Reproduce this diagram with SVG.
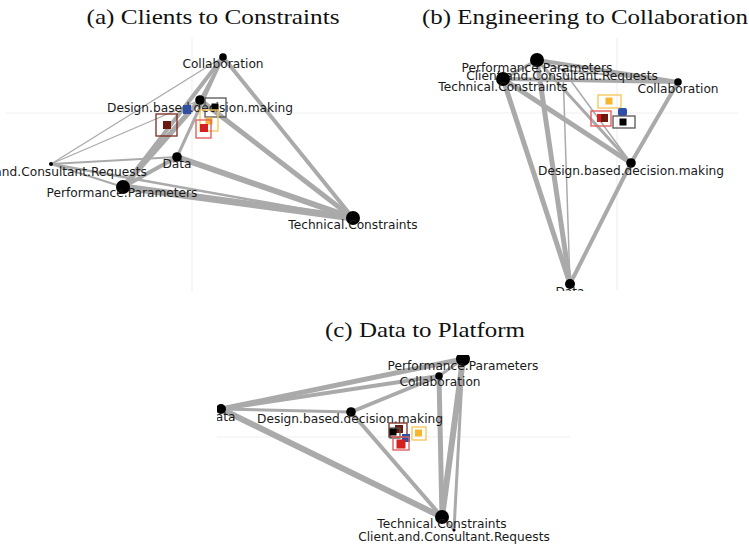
<svg xmlns="http://www.w3.org/2000/svg" width="749" height="548" viewBox="0 0 749 548">
<style>
.title{font-family:"Liberation Serif","DejaVu Serif",serif;font-size:21px;fill:#111;text-anchor:middle}
.lbl{font-family:"DejaVu Sans",sans-serif;font-size:12.2px;fill:#1a1a1a;text-anchor:middle}
.axis{stroke:#f0f0f0;stroke-width:1.2}
.e{stroke:#aaaaaa;stroke-linecap:round;fill:none}
.n{fill:#000}
.brown{fill:#6b1a0e}.brownO{fill:none;stroke:#7a2a1e;stroke-width:1.3}
.red{fill:#d42020}.redO{fill:none;stroke:#e46060;stroke-width:1.4}
.yel{fill:#f5b52e}.yelO{fill:none;stroke:#f7c860;stroke-width:1.4}
.blk{fill:#000}.blkO{fill:none;stroke:#555;stroke-width:1.3}
.blue{fill:#2d4fa8}
</style>
<defs>
<clipPath id="clipB"><rect x="420" y="30" width="329" height="261"/></clipPath>
<clipPath id="clipC"><rect x="217" y="355" width="532" height="193"/></clipPath>
</defs>
<rect width="749" height="548" fill="#fff"/>

<!-- Panel (a) -->
<g id="panel-a">
<text class="title" x="213" y="24" textLength="253" lengthAdjust="spacingAndGlyphs">(a) Clients to Constraints</text>
<line class="axis" x1="192" y1="38" x2="192" y2="292"/>
<line class="axis" x1="6" y1="113" x2="420" y2="113"/>
<g id="edges-a">
<line class="e" x1="223" y1="57" x2="51" y2="164" stroke-width="1.3"/>
<line class="e" x1="200" y1="100" x2="51" y2="164" stroke-width="1.3"/>
<line class="e" x1="177" y1="157" x2="51" y2="164" stroke-width="2"/>
<line class="e" x1="51" y1="164" x2="123" y2="187" stroke-width="2"/>
<line class="e" x1="51" y1="164" x2="353" y2="218" stroke-width="2.5"/>
<line class="e" x1="223" y1="57" x2="123" y2="187" stroke-width="4"/>
<line class="e" x1="223" y1="57" x2="177" y2="157" stroke-width="3"/>
<line class="e" x1="223" y1="57" x2="353" y2="218" stroke-width="4"/>
<line class="e" x1="223" y1="57" x2="200" y2="100" stroke-width="2.5"/>
<line class="e" x1="200" y1="100" x2="123" y2="187" stroke-width="5"/>
<line class="e" x1="200" y1="100" x2="353" y2="218" stroke-width="5"/>
<line class="e" x1="177" y1="157" x2="123" y2="187" stroke-width="4"/>
<line class="e" x1="177" y1="157" x2="353" y2="218" stroke-width="6"/>
<line class="e" x1="123" y1="187" x2="353" y2="218" stroke-width="7"/>
</g>
<g id="a-collaboration"><circle class="n" cx="223" cy="57" r="3.8"/><text class="lbl" x="223" y="68">Collaboration</text></g>
<g id="a-design"><circle class="n" cx="200" cy="100" r="4.8"/><text class="lbl" x="200" y="112">Design.based.decision.making</text></g>
<g id="a-data"><circle class="n" cx="177" cy="157" r="4.8"/><text class="lbl" x="177" y="168">Data</text></g>
<g id="a-client"><circle class="n" cx="51" cy="164" r="2"/><text class="lbl" x="51" y="176">Client.and.Consultant.Requests</text></g>
<g id="a-performance"><circle class="n" cx="123" cy="187" r="7"/><text class="lbl" x="122" y="197">Performance.Parameters</text></g>
<g id="a-technical"><circle class="n" cx="353" cy="218" r="7"/><text class="lbl" x="353" y="229">Technical.Constraints</text></g>
<g id="a-markers">
<rect class="blue" x="183" y="105" width="8" height="9"/>
<rect class="blkO" x="205" y="98" width="21" height="19"/>
<rect class="blk" x="211.5" y="103.5" width="7" height="7"/>
<rect class="yelO" x="200" y="110" width="18" height="21"/>
<rect class="yel" x="205.5" y="117.5" width="7" height="7"/>
<rect class="redO" x="196" y="120" width="15" height="18"/>
<rect class="red" x="200" y="124" width="8" height="8"/>
<rect class="brownO" x="156" y="114" width="21" height="22"/>
<rect class="brown" x="163" y="121" width="8" height="8"/>
</g>
</g>

<!-- Panel (b) -->
<g id="panel-b">
<text class="title" x="585" y="24" textLength="326" lengthAdjust="spacingAndGlyphs">(b) Engineering to Collaboration</text>
<line class="axis" x1="617" y1="38" x2="617" y2="290"/>
<line class="axis" x1="420" y1="113" x2="738" y2="113"/>
<g clip-path="url(#clipB)">
<g id="edges-b">
<line class="e" x1="537" y1="60" x2="678" y2="82" stroke-width="4"/>
<line class="e" x1="503" y1="79" x2="678" y2="82" stroke-width="4"/>
<line class="e" x1="563" y1="70" x2="678" y2="82" stroke-width="2"/>
<line class="e" x1="537" y1="60" x2="503" y2="79" stroke-width="3"/>
<line class="e" x1="537" y1="60" x2="563" y2="70" stroke-width="2"/>
<line class="e" x1="503" y1="79" x2="570" y2="284" stroke-width="5"/>
<line class="e" x1="537" y1="60" x2="570" y2="284" stroke-width="5"/>
<line class="e" x1="563" y1="70" x2="570" y2="284" stroke-width="1.5"/>
<line class="e" x1="503" y1="79" x2="631" y2="163" stroke-width="5"/>
<line class="e" x1="537" y1="60" x2="631" y2="163" stroke-width="3"/>
<line class="e" x1="563" y1="70" x2="631" y2="163" stroke-width="1.5"/>
<line class="e" x1="678" y1="82" x2="631" y2="163" stroke-width="4"/>
<line class="e" x1="631" y1="163" x2="570" y2="284" stroke-width="4"/>
</g>
<g id="b-performance"><circle class="n" cx="537" cy="60" r="7"/><text class="lbl" x="537" y="72">Performance.Parameters</text></g>
<g id="b-client"><circle class="n" cx="563" cy="70" r="1.5"/><text class="lbl" x="562" y="80">Client.and.Consultant.Requests</text></g>
<g id="b-technical"><circle class="n" cx="503" cy="79" r="7"/><text class="lbl" x="503" y="91">Technical.Constraints</text></g>
<g id="b-collaboration"><circle class="n" cx="678" cy="82" r="3.8"/><text class="lbl" x="678" y="93">Collaboration</text></g>
<g id="b-design"><circle class="n" cx="631" cy="163" r="4.8"/><text class="lbl" x="631" y="175">Design.based.decision.making</text></g>
<g id="b-data"><circle class="n" cx="570" cy="284" r="5"/><text class="lbl" x="570" y="296">Data</text></g>
<g id="b-markers">
<rect class="yelO" x="598" y="95" width="23" height="13"/>
<rect class="yel" x="605.5" y="97.5" width="7" height="7"/>
<rect class="blue" x="618" y="108" width="9" height="8" rx="2"/>
<rect class="redO" x="591" y="111" width="20" height="15"/>
<rect class="red" x="597" y="114" width="8" height="8"/>
<rect class="brown" x="601" y="114" width="7" height="8"/>
<rect class="blkO" x="613" y="116" width="22" height="12"/>
<rect class="blk" x="619.5" y="118.5" width="7" height="7"/>
</g>
</g>
</g>

<!-- Panel (c) -->
<g id="panel-c">
<text class="title" x="425" y="337" textLength="200" lengthAdjust="spacingAndGlyphs">(c) Data to Platform</text>
<line class="axis" x1="217" y1="437" x2="570" y2="437"/>
<g clip-path="url(#clipC)">
<g id="edges-c">
<line class="e" x1="221" y1="409" x2="463" y2="359" stroke-width="5"/>
<line class="e" x1="221" y1="409" x2="439" y2="376" stroke-width="4"/>
<line class="e" x1="221" y1="409" x2="351" y2="412" stroke-width="3"/>
<line class="e" x1="221" y1="409" x2="442" y2="517" stroke-width="6"/>
<line class="e" x1="351" y1="412" x2="439" y2="376" stroke-width="4"/>
<line class="e" x1="351" y1="412" x2="442" y2="517" stroke-width="4"/>
<line class="e" x1="439" y1="376" x2="442" y2="517" stroke-width="5"/>
<line class="e" x1="463" y1="359" x2="442" y2="517" stroke-width="6"/>
<line class="e" x1="463" y1="359" x2="454" y2="530" stroke-width="3"/>
<line class="e" x1="439" y1="376" x2="463" y2="359" stroke-width="3"/>
<line class="e" x1="442" y1="517" x2="454" y2="530" stroke-width="2"/>
</g>
<g id="c-performance"><circle class="n" cx="463" cy="359" r="7"/><text class="lbl" x="463" y="370">Performance.Parameters</text></g>
<g id="c-collaboration"><circle class="n" cx="439" cy="376" r="3.8"/><text class="lbl" x="440" y="386">Collaboration</text></g>
<g id="c-data"><circle class="n" cx="221" cy="409" r="5"/><text class="lbl" x="221" y="421">Data</text></g>
<g id="c-design"><circle class="n" cx="351" cy="412" r="4.8"/><text class="lbl" x="350" y="423">Design.based.decision.making</text></g>
<g id="c-technical"><circle class="n" cx="442" cy="517" r="7"/><text class="lbl" x="442" y="528">Technical.Constraints</text></g>
<g id="c-client"><circle class="n" cx="454" cy="530" r="1.5"/><text class="lbl" x="454" y="541">Client.and.Consultant.Requests</text></g>
<g id="c-markers">
<rect class="brownO" x="389" y="423" width="18" height="14"/>
<rect class="brown" x="395" y="425" width="8" height="8"/>
<rect class="blkO" x="390" y="428" width="10" height="10"/>
<rect class="blk" x="389.5" y="428.5" width="7" height="7"/>
<rect class="blue" x="402" y="434" width="8" height="8"/>
<rect class="redO" x="393" y="437" width="16" height="13"/>
<rect class="red" x="396.5" y="439.5" width="9" height="9"/>
<rect class="yelO" x="412" y="427" width="14" height="13"/>
<rect class="yel" x="415" y="429.5" width="7" height="7"/>
</g>
</g>
</g>
</svg>
